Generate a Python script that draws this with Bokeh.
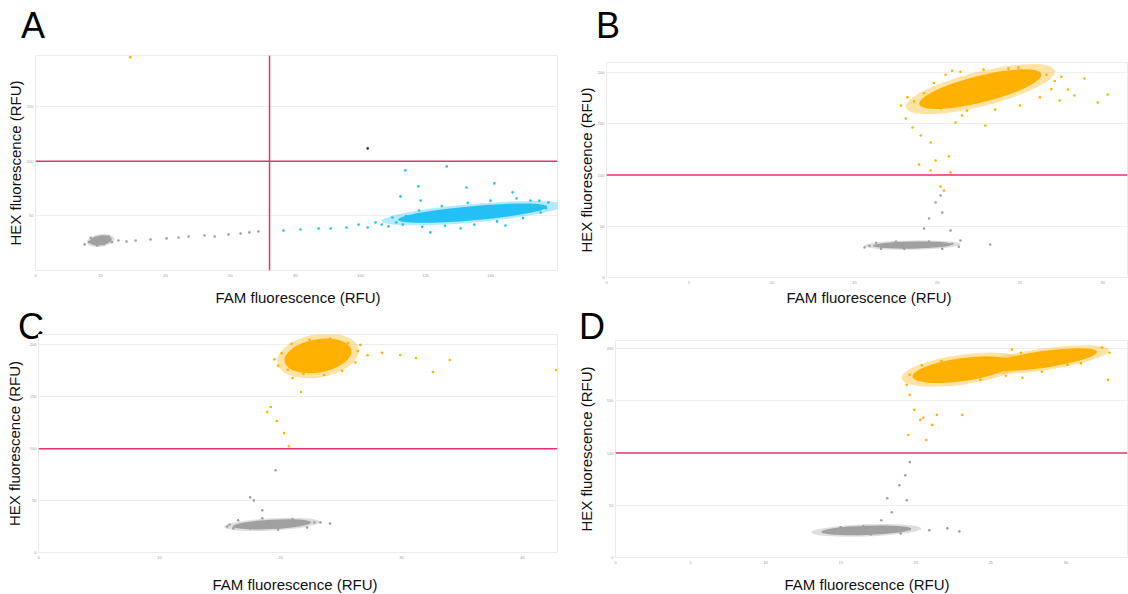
import math
from bokeh.plotting import figure
from bokeh.layouts import column, row
from bokeh.models import Span, FixedTicker, Range1d, ColumnDataSource, Div
from bokeh.embed import file_html
from bokeh.resources import INLINE

# ---------------- data ----------------
CALL_COLORS = {"neg": "#a0a0a0", "FAM": "#22c0f5", "HEX": "#ffb000", "dbl": "#333333"}
THRESH_Y = 100

# Panel A
A_xmax, A_ymax = 160.6, 197
A_xticks = [0, 20, 40, 60, 80, 100, 120, 140]
A_yticks = [50, 100, 150]
A_vthresh = 72
A_cl_x = [20.0, 134.5]
A_cl_y = [27.5, 52.5]
A_cl_w = [7.0, 46.0]
A_cl_h = [9.0, 13.0]
A_cl_ang = [8, 5]
A_cl_call = ["neg", "FAM"]
A_pt_x = [25.5, 28.0, 30.8, 35.4, 40.3, 44.0, 47.1, 52.0, 55.1, 59.4, 63.1, 65.8, 68.6,
          16.5, 17.0, 22.5, 23.5, 19.0, 21.0, 15.1,
          76.3, 81.5, 87.1, 90.8, 95.7, 99.4, 102.2, 104.6, 106.5, 108.6, 109.8,
          113.8, 117.8, 126.5, 132.6, 141.2, 112.3, 118.5, 146.8, 152.3, 157.8,
          121.5, 130.8, 144.6, 155.4,
          111, 114, 118, 125, 133, 140, 148, 155, 157, 150, 142, 135, 126, 119, 113,
          102.2, 29.2]
A_pt_y = [27.5, 26.6, 27.5, 28.4, 29.4, 30.3, 31.2, 32.1, 31.2, 33.0, 33.9, 34.9, 35.8,
          26, 30, 31, 26, 23, 24, 23.9,
          36.7, 37.6, 38.5, 38.5, 39.4, 42.2, 39.4, 44.0, 42.2, 40.4, 48.6,
          91.7, 77.1, 95.4, 76.1, 79.8, 67.9, 64.2, 71.6, 64.2, 62.4,
          34.9, 38.5, 41.3, 53.2,
          44, 50, 55, 59, 62, 64, 66, 64, 57, 48, 45, 42, 41, 40, 42,
          111.9, 195.5]
A_pt_call = ["neg"] * 20 + ["FAM"] * 40 + ["dbl", "HEX"]

# Panel B
B_xmax, B_ymax = 31.5, 210
B_xticks = [0, 5, 10, 15, 20, 25, 30]
B_yticks = [0, 50, 100, 150, 200]
B_cl_x = [18.5, 22.6]
B_cl_y = [31.7, 184.0]
B_cl_w = [4.8, 7.6]
B_cl_h = [7.0, 26.0]
B_cl_ang = [1, 14]
B_cl_call = ["neg", "HEX"]
B_pt_x = [27.9, 28.9, 29.7, 30.3, 28.3, 27.4, 17.8, 18.1, 18.5, 19.0, 19.6, 20.7, 19.9,
          21.1, 18.9, 20.8, 20.2, 20.4, 19.6, 21.5, 22.9,
          18.6, 19.2, 19.8, 20.5, 21.4, 22.8, 24.3, 25.6, 26.6, 27.1, 26.9, 26.2, 25.0, 23.5,
          21.8, 20.2, 18.2, 27.5, 20.9, 24.9,
          20.2, 19.9, 20.3, 19.5, 19.2, 20.8, 21.4, 23.2, 16.6, 15.6,
          15.9, 16.3, 17.5, 19.5, 20.9, 21.3, 20.3, 18.0, 16.6]
B_pt_y = [183.6, 194.3, 170.9, 178.7, 177.7, 172.9, 168.0, 155.3, 146.5, 138.7, 131.8, 118.2, 114.3,
          151.4, 110.4, 102.5, 88.9, 85.0, 104.5, 158.2, 148.4,
          172, 180, 190, 198, 201, 203, 204, 202, 198, 192, 184, 176, 168, 164,
          163, 165, 176, 196, 202, 205,
          80.1, 73.2, 63.5, 57.6, 47.9, 45.9, 36.1, 32.2, 30.3, 29.3,
          31, 34, 35, 35, 33, 30, 28, 28, 28]
B_pt_call = ["HEX"] * 41 + ["neg"] * 19

# Panel C
C_xmax, C_ymax = 42.9, 210
C_xticks = [0, 10, 20, 30, 40]
C_yticks = [0, 50, 100, 150, 200]
C_cl_x = [19.3, 23.1]
C_cl_y = [27.1, 189.4]
C_cl_w = [6.5, 5.6]
C_cl_h = [9.0, 32.0]
C_cl_ang = [3, 10]
C_cl_call = ["neg", "HEX"]
C_pt_x = [19.2, 18.9, 19.7, 20.3, 20.7, 21.7, 21.0, 28.4, 29.9, 31.2, 32.6, 34.0, 42.8, 26.6, 25.0,
          19.8, 20.1, 20.9, 22.4, 24.1, 25.6, 26.4, 26.2, 25.1, 23.6, 21.9, 20.6, 27.2, 19.5,
          19.6, 17.5, 17.8, 18.5, 23.3, 24.1, 15.6, 16.1,
          15.8, 16.5, 18.5, 21.0, 22.8, 22.2, 19.8, 17.5]
C_pt_y = [140.1, 135.3, 126.6, 115.0, 102.4, 154.6, 168.1, 192.3, 190.3, 187.4, 173.9, 185.5, 175.8, 200.0, 195.2,
          180, 192, 201, 205, 206, 202, 194, 183, 175, 171, 172, 176, 190, 186,
          79.2, 53.1, 50.2, 40.6, 29.0, 28.0, 25.1, 23.2,
          27, 31, 33, 32, 29, 24, 22, 23]
C_pt_call = ["HEX"] * 29 + ["neg"] * 16

# Panel D
D_xmax, D_ymax = 34.1, 207.7
D_xticks = [0, 5, 10, 15, 20, 25, 30]
D_yticks = [0, 50, 100, 150, 200]
D_cl_x = [16.7, 23.1, 28.4]
D_cl_y = [26.0, 179.8, 189.4]
D_cl_w = [6.0, 6.7, 7.4]
D_cl_h = [9.0, 22.0, 16.0]
D_cl_ang = [2, 8, 8]
D_cl_call = ["neg", "HEX", "HEX"]
D_pt_x = [27.8, 29.1, 29.9, 30.8, 31.8, 32.4, 32.8, 28.4, 27.1, 30.1, 26.4,
          19.4, 19.6, 19.9, 20.3, 21.1, 21.4, 19.5, 20.5, 23.1, 20.7,
          19.6, 20.4, 21.7, 23.5, 25.3, 26.6, 26.0, 24.3, 22.2, 20.6, 29.5, 31.2, 28.6, 31.0, 32.9, 27.0,
          19.6, 19.3, 18.9, 18.1, 19.4, 18.4, 17.7, 20.9, 22.1, 22.9,
          14.5, 15.0, 16.5, 18.5, 19.6, 19.0, 17.0, 15.2]
D_pt_y = [189.4, 194.2, 197.1, 199.0, 197.1, 201.0, 170.2, 177.9, 172.1, 184.6, 199.0,
          165.4, 155.8, 141.3, 131.7, 126.9, 136.5, 117.3, 133.7, 136.5, 112.5,
          175, 184, 188, 190, 189, 184, 174, 170, 169, 170, 191, 193, 183, 186, 196, 196,
          91.3, 78.8, 69.2, 56.7, 54.8, 43.3, 35.6, 26.0, 27.9, 25.0,
          26, 29, 30, 29, 27, 23, 22, 23]
D_pt_call = ["HEX"] * 37 + ["neg"] * 18

XLABEL = "FAM fluorescence (RFU)"
YLABEL = "HEX fluorescence (RFU)"
FONT = "Liberation Sans"


def make_panel(width, height, b_left, b_right, b_top, b_bottom,
               xmax, ymax, xticks, yticks, cl, pts, vline=None, ylab_standoff=2):
    p = figure(width=width, height=height, output_backend="svg", toolbar_location=None,
               x_range=Range1d(0, xmax), y_range=Range1d(0, ymax),
               min_border_left=b_left, min_border_right=b_right,
               min_border_top=b_top, min_border_bottom=b_bottom)
    try:
        p.frame_align = False
    except Exception:
        pass
    p.title.visible = False
    p.background_fill_color = "white"
    p.border_fill_color = None
    p.outline_line_color = "#ebebeb"
    p.xaxis.ticker = FixedTicker(ticks=xticks)
    p.yaxis.ticker = FixedTicker(ticks=yticks)
    p.xgrid.visible = False
    p.ygrid.ticker = FixedTicker(ticks=yticks)
    p.ygrid.grid_line_color = "#efefef"
    p.ygrid.grid_line_width = 1
    for ax in (p.xaxis, p.yaxis):
        ax.axis_line_color = None
        ax.major_tick_line_color = None
        ax.minor_tick_line_color = None
        ax.major_tick_out = 0
        ax.major_tick_in = 0
        ax.major_label_text_font_size = "4px"
        ax.major_label_text_color = "#9a9a9a"
        ax.major_label_text_font = FONT
        ax.major_label_standoff = 2
    p.xaxis.major_label_standoff = 3
    p.yaxis.axis_label = YLABEL
    p.yaxis.axis_label_text_font = FONT
    p.yaxis.axis_label_text_font_size = "15px"
    p.yaxis.axis_label_text_font_style = "normal"
    p.yaxis.axis_label_text_color = "#111111"
    p.yaxis.axis_label_standoff = ylab_standoff

    cx, cy, cw, ch, ca, cc = cl
    cols = [CALL_COLORS[c] for c in cc]
    angs = [math.radians(v) for v in ca]
    halo = ColumnDataSource(dict(x=cx, y=cy, w=[v * 1.22 for v in cw], h=[v * 1.3 for v in ch],
                                 a=angs, c=cols))
    core = ColumnDataSource(dict(x=cx, y=cy, w=cw, h=ch, a=angs, c=cols))
    p.ellipse(x="x", y="y", width="w", height="h", angle="a", source=halo,
              fill_color="c", fill_alpha=0.35, line_color=None)
    p.ellipse(x="x", y="y", width="w", height="h", angle="a", source=core,
              fill_color="c", fill_alpha=1.0, line_color=None)

    px, py, pc = pts
    psrc = ColumnDataSource(dict(x=px, y=py, c=[CALL_COLORS[c] for c in pc]))
    p.scatter(x="x", y="y", source=psrc, size=2.6, color="c", line_color=None)

    p.add_layout(Span(location=THRESH_Y, dimension="width", line_color="#e63270", line_width=1.5))
    if vline is not None:
        p.add_layout(Span(location=vline, dimension="height", line_color="#e63270", line_width=1.5))
    return p


def letter_div(letter, width, height, left, top):
    html = ('<div style="position:relative; left:%dpx; top:%dpx; font-family:\'Liberation Sans\';'
            ' font-size:36px; line-height:36px; color:#000; white-space:nowrap;">%s</div>'
            % (left, top, letter))
    return Div(text=html, width=width, height=height, margin=(0, 0, 0, 0),
               styles={"overflow": "visible"})


def xtitle_div(width, height, center, top):
    html = ('<div style="position:relative; left:%dpx; top:%dpx; width:300px; text-align:center;'
            ' font-family:\'Liberation Sans\'; font-size:15px; line-height:18px; color:#111;'
            ' white-space:nowrap;">%s</div>' % (center - 150, top, XLABEL))
    return Div(text=html, width=width, height=height, margin=(0, 0, 0, 0),
               styles={"overflow": "visible"})


# page origin is the window's top-left corner; the whole layout is 1128 x 594
W_L, W_R = 572, 556
pA = make_panel(W_L, 244, 35, 15, 11, 18, A_xmax, A_ymax, A_xticks, A_yticks,
                (A_cl_x, A_cl_y, A_cl_w, A_cl_h, A_cl_ang, A_cl_call),
                (A_pt_x, A_pt_y, A_pt_call), vline=A_vthresh, ylab_standoff=0)
pB = make_panel(W_R, 244, 34, 1, 18, 11, B_xmax, B_ymax, B_xticks, B_yticks,
                (B_cl_x, B_cl_y, B_cl_w, B_cl_h, B_cl_ang, B_cl_call),
                (B_pt_x, B_pt_y, B_pt_call), ylab_standoff=0)
pC = make_panel(W_L, 232, 38, 15, 0, 14, C_xmax, C_ymax, C_xticks, C_yticks,
                (C_cl_x, C_cl_y, C_cl_w, C_cl_h, C_cl_ang, C_cl_call),
                (C_pt_x, C_pt_y, C_pt_call), ylab_standoff=4)
pD = make_panel(W_R, 232, 43, 1, 6, 9, D_xmax, D_ymax, D_xticks, D_yticks,
                (D_cl_x, D_cl_y, D_cl_w, D_cl_h, D_cl_ang, D_cl_call),
                (D_pt_x, D_pt_y, D_pt_call), ylab_standoff=9)

# letters and x titles (positions relative to each column's left edge)
dA = letter_div("A", W_L, 44, 21, 8)
dB = letter_div("B", W_R, 44, 24, 8)
dC = letter_div("C", W_L, 28, 18, 3)
dD = letter_div("D", W_R, 28, 7, 3)
xA = xtitle_div(W_L, 18, 298, 1)
xB = xtitle_div(W_R, 18, 297, 1)
xC = xtitle_div(W_L, 28, 295, 10)
xD = xtitle_div(W_R, 28, 295, 10)

layout = column(row(dA, dB), row(pA, pB), row(xA, xB),
                row(dC, dD), row(pC, pD), row(xC, xD))
open("out.html", "w").write(file_html(layout, INLINE))
